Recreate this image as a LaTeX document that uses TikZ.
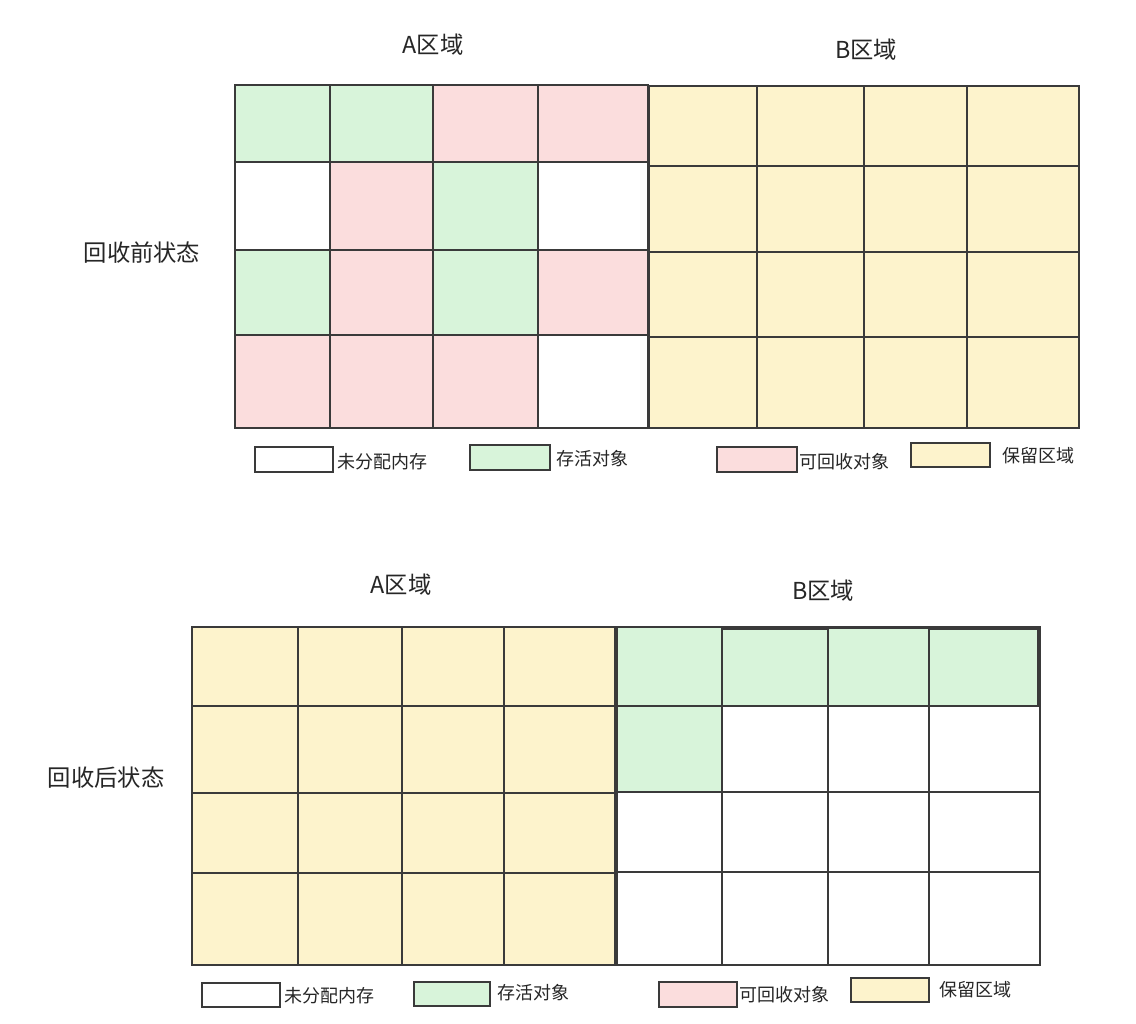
\documentclass[tikz,border=0pt]{standalone}
\usepackage{fontspec}
\newfontfamily\cjk{Noto Sans CJK SC}
\definecolor{cg}{HTML}{D8F4DA}
\definecolor{cr}{HTML}{FBDDDD}
\definecolor{cy}{HTML}{FDF3CC}
\definecolor{cw}{HTML}{FFFFFF}
\definecolor{ln}{HTML}{3A3A3A}
\tikzset{
  cellbox/.style={draw=ln, line width=1.3pt},
  gridline/.style={draw=ln, line width=0.9pt},
  title/.style={font=\cjk\fontsize{17.5}{20}\selectfont, text=black!85},
  rowlabel/.style={font=\cjk\fontsize{17.5}{20}\selectfont, text=black!85},
  legtext/.style={font=\cjk\fontsize{13.5}{16}\selectfont, text=black!85, anchor=west, inner sep=0pt},
  legbox/.style={draw=ln, line width=1pt},
}
\begin{document}
\begin{tikzpicture}[x=0.75pt,y=-0.75pt]
\useasboundingbox (0,0) rectangle (1136,1024);
\fill[white] (0,0) rectangle (1136,1024);

% ---------- TOP: before collection ----------
% A region cells
\foreach \xa/\xb/\ya/\yb/\c in {
  235/330/85/162/cg, 330/433/85/162/cg, 433/538/85/162/cr, 538/648/85/162/cr,
  235/330/162/250/cw, 330/433/162/250/cr, 433/538/162/250/cg, 538/648/162/250/cw,
  235/330/250/335/cg, 330/433/250/335/cr, 433/538/250/335/cg, 538/648/250/335/cr,
  235/330/335/428/cr, 330/433/335/428/cr, 433/538/335/428/cr, 538/648/335/428/cw}
  {\filldraw[cellbox, fill=\c] (\xa,\ya) rectangle (\xb,\yb);}
% B region
\filldraw[cellbox, fill=cy] (649,86) rectangle (1079,428);
\foreach \x in {757,864,967} \draw[gridline] (\x,86) -- (\x,428);
\foreach \y in {166,252,337} \draw[gridline] (649,\y) -- (1079,\y);

\node[title] (tA1) at (433,45) {A区域};
\node[title] (tB1) at (866,50) {B区域};
\node[rowlabel] (r1) at (142,253) {回收前状态};

% legend top
\draw[legbox, fill=cw] (255,447) rectangle (333,472);
\node[legtext] (l11) at (337,462) {未分配内存};
\draw[legbox, fill=cg] (470,445) rectangle (550,470);
\node[legtext] (l12) at (556,459) {存活对象};
\draw[legbox, fill=cr] (717,447) rectangle (797,472);
\node[legtext] (l13) at (799,462) {可回收对象};
\draw[legbox, fill=cy] (911,443) rectangle (990,467);
\node[legtext] (l14) at (1002,456) {保留区域};

% ---------- BOTTOM: after collection ----------
\filldraw[cellbox, fill=cy] (192,627) rectangle (615,965);
\foreach \x in {298,402,504} \draw[gridline] (\x,627) -- (\x,965);
\foreach \y in {706,793,873} \draw[gridline] (192,\y) -- (615,\y);

\draw[cellbox, fill=cw] (617,627) rectangle (1040,965);
\foreach \x in {722,828,929} \draw[gridline] (\x,627) -- (\x,965);
\foreach \y in {706,792,872} \draw[gridline] (617,\y) -- (1040,\y);
\foreach \xa/\xb/\ya/\yb in {617/722/627/706, 722/828/629/706, 828/929/628/706, 929/1038/629/706, 617/722/706/792}
  {\filldraw[cellbox, fill=cg] (\xa,\ya) rectangle (\xb,\yb);}

\node[title] (tA2) at (401,585) {A区域};
\node[title] (tB2) at (823,591) {B区域};
\node[rowlabel] (r2) at (106,778) {回收后状态};

% legend bottom
\draw[legbox, fill=cw] (202,983) rectangle (280,1007);
\node[legtext] (l21) at (284,996) {未分配内存};
\draw[legbox, fill=cg] (414,982) rectangle (490,1006);
\node[legtext] (l22) at (497,993) {存活对象};
\draw[legbox, fill=cr] (659,982) rectangle (737,1007);
\node[legtext] (l23) at (739,995) {可回收对象};
\draw[legbox, fill=cy] (851,978) rectangle (929,1002);
\node[legtext] (l24) at (939,990) {保留区域};
\end{tikzpicture}
\end{document}
